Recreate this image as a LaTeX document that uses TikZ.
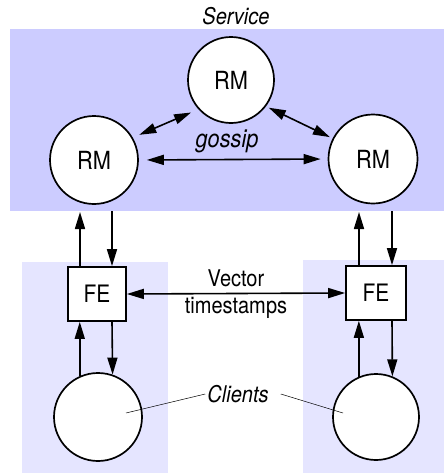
\documentclass[tikz,border=0pt]{standalone}
\usepackage{fontspec}
\setmainfont{TeX Gyre Heros}[FakeStretch=0.87]
\usetikzlibrary{arrows.meta}
\definecolor{topband}{RGB}{204,204,255}
\definecolor{lowband}{RGB}{229,229,255}
\begin{document}
\begin{tikzpicture}[x=1pt,y=-1pt,
  txt/.style={font=\fontsize{23}{27}\selectfont, inner sep=2pt},
  itxt/.style={font=\fontsize{23}{27}\selectfont\itshape, inner sep=2pt},
  rmnode/.style={circle, draw, line width=1.7pt, fill=white, inner sep=0pt, minimum size=87pt, font=\fontsize{25}{29}\selectfont},
  clnode/.style={circle, draw, line width=1.7pt, fill=white, inner sep=0pt, minimum size=87pt},
  febox/.style={rectangle, draw, line width=1.7pt, fill=white, inner sep=0pt, minimum width=58pt, minimum height=54pt, font=\fontsize{24}{28}\selectfont},
  arr/.style={line width=1.6pt, -{Triangle[length=17pt,width=10pt]}},
  biarr/.style={line width=1.6pt, {Triangle[length=17pt,width=10pt]}-{Triangle[length=17pt,width=10pt]}},
  thin/.style={line width=0.5pt}
]
\useasboundingbox (0,0) rectangle (444,474);
% bands
\fill[topband] (10,29) rectangle (444,211);
\fill[lowband] (22,262) rectangle (168,473);
\fill[lowband] (303,260) rectangle (444,473);

\node[itxt] (service) at (236,16) {Service};

% replica managers
\node[rmnode, minimum size=86pt] (rmT) at (231,80) {RM};
\node[rmnode, minimum size=88pt] (rmL) at (94,160) {RM};
\node[rmnode, minimum size=89pt] (rmR) at (373,159) {RM};

% front ends
\node[febox] (feL) at (97,294) {FE};
\node[febox, minimum width=60pt] (feR) at (376,293) {FE};

% clients
\node[clnode, minimum size=88pt] (clL) at (98,417) {};
\node[clnode, minimum size=86pt] (clR) at (376,417) {};

% gossip
\draw[biarr, shorten <=7pt, shorten >=8pt] (rmL.30) -- (rmT.222);
\draw[biarr, shorten <=3pt, shorten >=3pt] (rmT.323) -- (rmR.153);
\draw[biarr, shorten <=8pt, shorten >=7pt] (rmL.east) -- (rmR.west);
\node[itxt, font=\fontsize{25}{29}\selectfont\itshape] (gossip) at (227,141) {gossip};

% RM <-> FE
\coordinate (bLu) at (80,212);
\coordinate (bLd) at (112,211);
\coordinate (bRu) at (359,212);
\coordinate (bRd) at (392,211);
\draw[arr] (bLu |- feL.north) -- (bLu);
\draw[arr] (bLd) -- (bLd |- feL.north);
\draw[arr] (bRu |- feR.north) -- (bRu);
\draw[arr] (bRd) -- (bRd |- feR.north);

% FE <-> clients
\draw[arr] (clL.114) -- (clL.114 |- feL.south);
\draw[arr] (feL.south -| bLd) -- (clL.71);
\draw[arr] (clR.113) -- (clR.113 |- feR.south);
\draw[arr] (feR.south -| bRd) -- (clR.68);

% vector timestamps
\draw[biarr] (feL.east) -- (feR.west);
\node[txt, align=center] (vts) at (236,294) {Vector\\timestamps};

% clients label
\node[itxt] (clients) at (238,394) {Clients};
\coordinate (cpL) at (126,413);
\coordinate (cpR) at (343,413);
\draw[thin] (clients.west) -- (cpL);
\draw[thin] ([xshift=10pt]clients.east) -- (cpR);
\end{tikzpicture}
\end{document}
